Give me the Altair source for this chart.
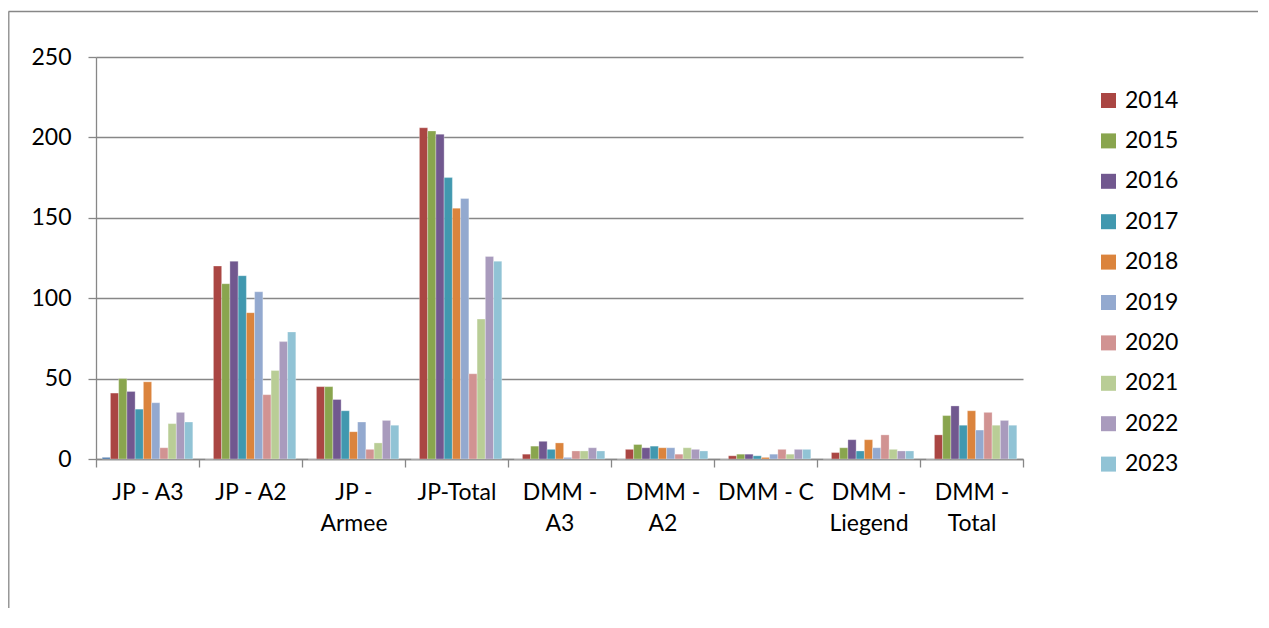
import altair as alt
import pandas as pd

categories = ["JP - A3", "JP - A2", "JP - Armee", "JP-Total", "DMM - A3",
              "DMM - A2", "DMM - C", "DMM - Liegend", "DMM - Total"]

series = ["Reihe 1", "2014", "2015", "2016", "2017", "2018",
          "2019", "2020", "2021", "2022", "2023"]

reihe1 = [1, 0, 0, 0, 0, 0, 0, 0, 0]
y2014 = [41, 120, 45, 206, 3, 6, 2, 4, 15]
y2015 = [50, 109, 45, 204, 8, 9, 3, 7, 27]
y2016 = [42, 123, 37, 202, 11, 7, 3, 12, 33]
y2017 = [31, 114, 30, 175, 6, 8, 2, 5, 21]
y2018 = [48, 91, 17, 156, 10, 7, 1, 12, 30]
y2019 = [35, 104, 23, 162, 1, 7, 3, 7, 18]
y2020 = [7, 40, 6, 53, 5, 3, 6, 15, 29]
y2021 = [22, 55, 10, 87, 5, 7, 3, 6, 21]
y2022 = [29, 73, 24, 126, 7, 6, 6, 5, 24]
y2023 = [23, 79, 21, 123, 5, 5, 6, 5, 21]

all_values = [reihe1, y2014, y2015, y2016, y2017, y2018,
              y2019, y2020, y2021, y2022, y2023]

colors = ["#4572A7", "#AA4643", "#89A54E", "#71588F", "#4198AF", "#DB843D",
          "#93A9CF", "#D19392", "#B9CD96", "#A99BBD", "#91C3D5"]

y_ticks = [0, 50, 100, 150, 200, 250]

rows = []
for s, vals in zip(series, all_values):
    for c, v in zip(categories, vals):
        rows.append({"cat": c, "series": s, "value": v})
df = pd.DataFrame(rows)

W, H = 927, 402
PAD_L, PAD_T = 88, 49
TOTAL_W, TOTAL_H = 1250, 600
FONT = "Lato"
GRAY = "#878787"

label_expr = ("indexof(datum.label, ' - ') >= 0 && length(datum.label) >= 8 ? "
              "[slice(datum.label, 0, indexof(datum.label, ' - ') + 2), "
              "slice(datum.label, indexof(datum.label, ' - ') + 3)] : datum.label")

bars = alt.Chart(df).mark_bar(stroke="white", strokeWidth=0.6, strokeOpacity=0.5).encode(
    x=alt.X("cat:N", sort=categories,
            scale=alt.Scale(paddingInner=0, paddingOuter=0),
            axis=alt.Axis(title=None, labelAngle=0, tickBand="extent", grid=False,
                          labelExpr=label_expr, labelLineHeight=31.5,
                          labelPadding=14, tickSize=8, labelBaseline="top")),
    xOffset=alt.XOffset("series:N", sort=series,
                        scale=alt.Scale(paddingInner=0, paddingOuter=0.75)),
    y=alt.Y("value:Q", scale=alt.Scale(domain=[0, 250], nice=False),
            axis=alt.Axis(title=None, values=y_ticks, grid=True, tickSize=8,
                          labelPadding=17)),
    color=alt.Color("series:N", sort=series,
                    scale=alt.Scale(domain=series, range=colors),
                    legend=alt.Legend(title=None, values=series[1:], orient="none",
                                      legendX=1001, legendY=32,
                                      symbolType="square", symbolSize=225,
                                      symbolStrokeWidth=0, labelFontSize=23,
                                      labelFont=FONT, labelColor="black",
                                      labelOffset=5, rowPadding=16.4, padding=0)),
)

frame = pd.DataFrame({"k": [0]})
top_line = alt.Chart(frame).mark_rule(color=GRAY, strokeWidth=1.3).encode(
    x=alt.value(-PAD_L + 0.5), x2=alt.value(TOTAL_W - PAD_L), y=alt.value(-45.5))
left_line = alt.Chart(frame).mark_rule(color=GRAY, strokeWidth=1.3).encode(
    x=alt.value(-PAD_L + 0.8), y=alt.value(-45.5), y2=alt.value(TOTAL_H - PAD_T))

chart = alt.layer(bars, top_line, left_line).properties(
    width=W, height=H,
    autosize=alt.AutoSizeParams(type="none"),
    padding={"left": PAD_L, "top": PAD_T, "right": TOTAL_W - PAD_L - W,
             "bottom": TOTAL_H - PAD_T - H},
).configure_view(stroke=None).configure_axis(
    labelFont=FONT, labelFontSize=23, labelColor="black",
    domainColor=GRAY, domainWidth=1.3, tickColor=GRAY, tickWidth=1.3,
    gridColor=GRAY, gridWidth=1.3,
)

chart.save("out.html", embed_options={"renderer": "svg", "actions": False})
